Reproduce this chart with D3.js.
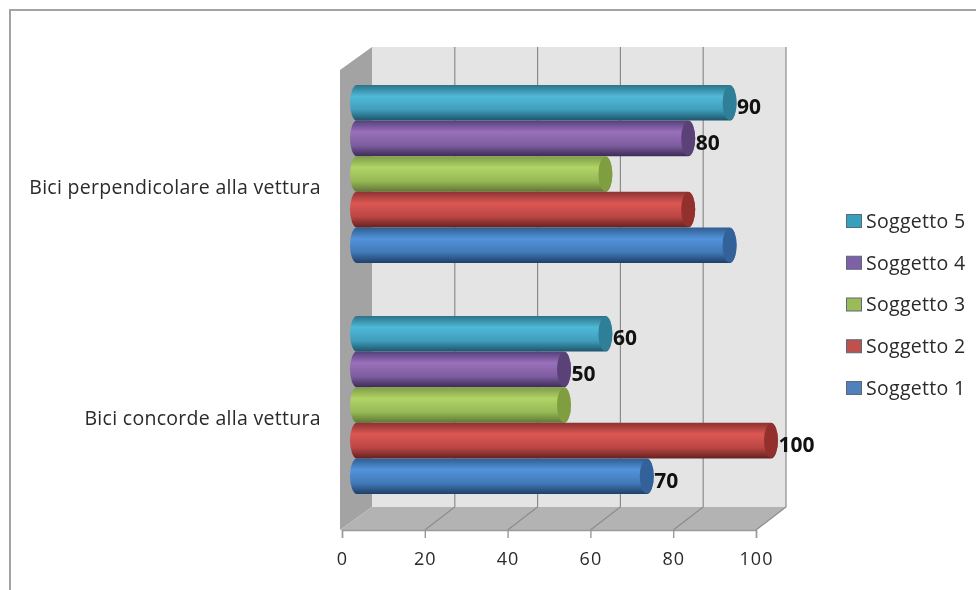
<!DOCTYPE html>
<html><head><meta charset="utf-8">
<script src="https://cdn.jsdelivr.net/npm/d3@7"></script>
<style>
html,body{margin:0;padding:0;background:#fff}
svg{display:block;filter:blur(0.45px)}
text{font-family:"Open Sans",sans-serif;fill:#2a2a2a}
</style></head><body>
<svg id="c" width="976" height="590"></svg>
<script>
const categories = ["Bici perpendicolare alla vettura", "Bici concorde alla vettura"];
const series = ["Soggetto 5", "Soggetto 4", "Soggetto 3", "Soggetto 2", "Soggetto 1"];
const perpendicolare = [90, 80, 60, 80, 90];
const concorde = [60, 50, 50, 100, 70];
const perpendicolareLabels = [true, true, false, false, false];
const concordeLabels = [true, true, false, true, true];
const tickValues = [0, 20, 40, 60, 80, 100];
const colors = {
  "Soggetto 5": ["#2b7387", "#4fb9d8", "#3f9dbb", "#1e5468", "#2f7f98", "#37a0bd"],
  "Soggetto 4": ["#54407a", "#9a70bb", "#7d5c9e", "#3c2c57", "#5a4279", "#7f60a8"],
  "Soggetto 3": ["#7f9b48", "#b0d465", "#96b956", "#5f7636", "#7f9e40", "#9bbb59"],
  "Soggetto 2": ["#8b3331", "#dc5753", "#bb4643", "#642220", "#92302e", "#c0504d"],
  "Soggetto 1": ["#2f5c90", "#5293da", "#4279b8", "#1f3f66", "#33629b", "#4f81bd"]
};

const svg = d3.select("#c");
const defs = svg.append("defs");
series.forEach((s, i) => {
  const g = defs.append("linearGradient").attr("id", "g" + i).attr("x1", 0).attr("x2", 0).attr("y1", 0).attr("y2", 1);
  [[0, 0], [.32, 1], [.7, 2], [1, 3]].forEach(([o, c]) =>
    g.append("stop").attr("offset", o).attr("stop-color", colors[s][c]));
});

// page frame
svg.append("path").attr("d", "M10,590V10H976").attr("fill", "none").attr("stroke", "#a3a3a3").attr("stroke-width", 2);

const x = d3.scaleLinear().domain([0, 100]).range([342, 756]);
const xBar = d3.scaleLinear().domain([0, 100]).range([357, 771]);
const depthX = 30, depthY = -23;
const plotTop = 70, plotBottom = 530;
const yCat = d3.scaleBand().domain(categories).range([85, 494]).paddingInner(0.2294);
const ySer = d3.scaleBand().domain(series).range([0, yCat.bandwidth()]);

// walls
const X0 = x(0), X1 = x(100);
svg.append("polygon").attr("fill", "#e4e4e4")
  .attr("points", [[X0 + depthX, plotTop + depthY], [X1 + depthX, plotTop + depthY], [X1 + depthX, plotBottom + depthY], [X0 + depthX, plotBottom + depthY]].join(" "));
svg.append("polygon").attr("fill", "#a3a3a3")
  .attr("points", [[X0 - 2, plotTop], [X0 + depthX, plotTop + depthY], [X0 + depthX, plotBottom + depthY], [X0 - 2, plotBottom]].join(" "));
svg.append("polygon").attr("fill", "#b3b3b3")
  .attr("points", [[X0 - 2, plotBottom], [X0 + depthX, plotBottom + depthY], [X1 + depthX, plotBottom + depthY], [X1, plotBottom]].join(" "));

// grid
svg.append("g").selectAll("path").data(tickValues.slice(1)).join("path")
  .attr("d", d => `M${x(d)},${plotBottom}L${x(d) + depthX},${plotBottom + depthY}V${plotTop + depthY}`)
  .attr("fill", "none").attr("stroke", "#8c8c8c").attr("stroke-width", 1.2);

// axis
const ax = svg.append("g").attr("transform", `translate(0,${plotBottom})`)
  .call(d3.axisBottom(x).tickValues(tickValues).tickSize(8).tickPadding(14));
ax.selectAll("path,line").attr("stroke", "#9a9a9a").attr("stroke-width", 1.4);
ax.selectAll("text").attr("font-size", 18).style("font-family", '"Open Sans"').style("letter-spacing", "1px").attr("fill", "#333");

// category labels
svg.append("g").selectAll("text").data(categories).join("text")
  .attr("x", 321).attr("y", d => yCat(d) + yCat.bandwidth() / 2 + 13)
  .attr("dy", ".35em").attr("text-anchor", "end").attr("font-size", 19.5).style("letter-spacing", "0.3px").text(d => d);

// cylinders
const rx = 7;
const rows = [[categories[0], perpendicolare, perpendicolareLabels], [categories[1], concorde, concordeLabels]];
rows.forEach(([cat, vals, labs]) => {
  const g = svg.append("g").attr("transform", `translate(0,${yCat(cat)})`);
  const bars = g.selectAll("g").data(series.map((s, i) => ({ s, i, v: vals[i], lab: labs[i] }))).join("g");
  bars.append("path")
    .attr("fill", d => `url(#g${d.i})`)
    .attr("d", d => {
      const y0 = ySer(d.s), y1 = y0 + ySer.bandwidth(), r = ySer.bandwidth() / 2;
      return `M${xBar(0)},${y0}L${xBar(d.v)},${y0}A${rx},${r} 0 0 1 ${xBar(d.v)},${y1}L${xBar(0)},${y1}A${rx},${r} 0 0 1 ${xBar(0)},${y0}Z`;
    });
  bars.append("ellipse")
    .attr("cx", d => xBar(d.v)).attr("cy", d => ySer(d.s) + ySer.bandwidth() / 2)
    .attr("rx", rx).attr("ry", ySer.bandwidth() / 2 - 0.5)
    .attr("fill", d => colors[d.s][4]);
  bars.filter(d => d.lab).append("text")
    .attr("x", d => xBar(d.v) + rx + 0.5)
    .attr("y", d => ySer(d.s) + ySer.bandwidth() / 2 + 4)
    .attr("dy", ".36em").attr("font-size", 21).attr("font-weight", 700)
    .style("fill", "#111").text(d => d.v);
});

// legend
const yLeg = d3.scalePoint().domain(series).range([221, 388]);
const leg = svg.append("g").selectAll("g").data(series).join("g")
  .attr("transform", d => `translate(846,${yLeg(d)})`);
leg.append("rect").attr("x", 0.5).attr("y", -6.5).attr("width", 15).attr("height", 13)
  .attr("fill", d => colors[d][5]).attr("stroke", "#5a6a7a").attr("stroke-width", 1);
leg.append("text").attr("x", 20).attr("dy", ".35em").attr("font-size", 19.5).style("letter-spacing", "0.3px").text(d => d);
</script>
</body></html>
